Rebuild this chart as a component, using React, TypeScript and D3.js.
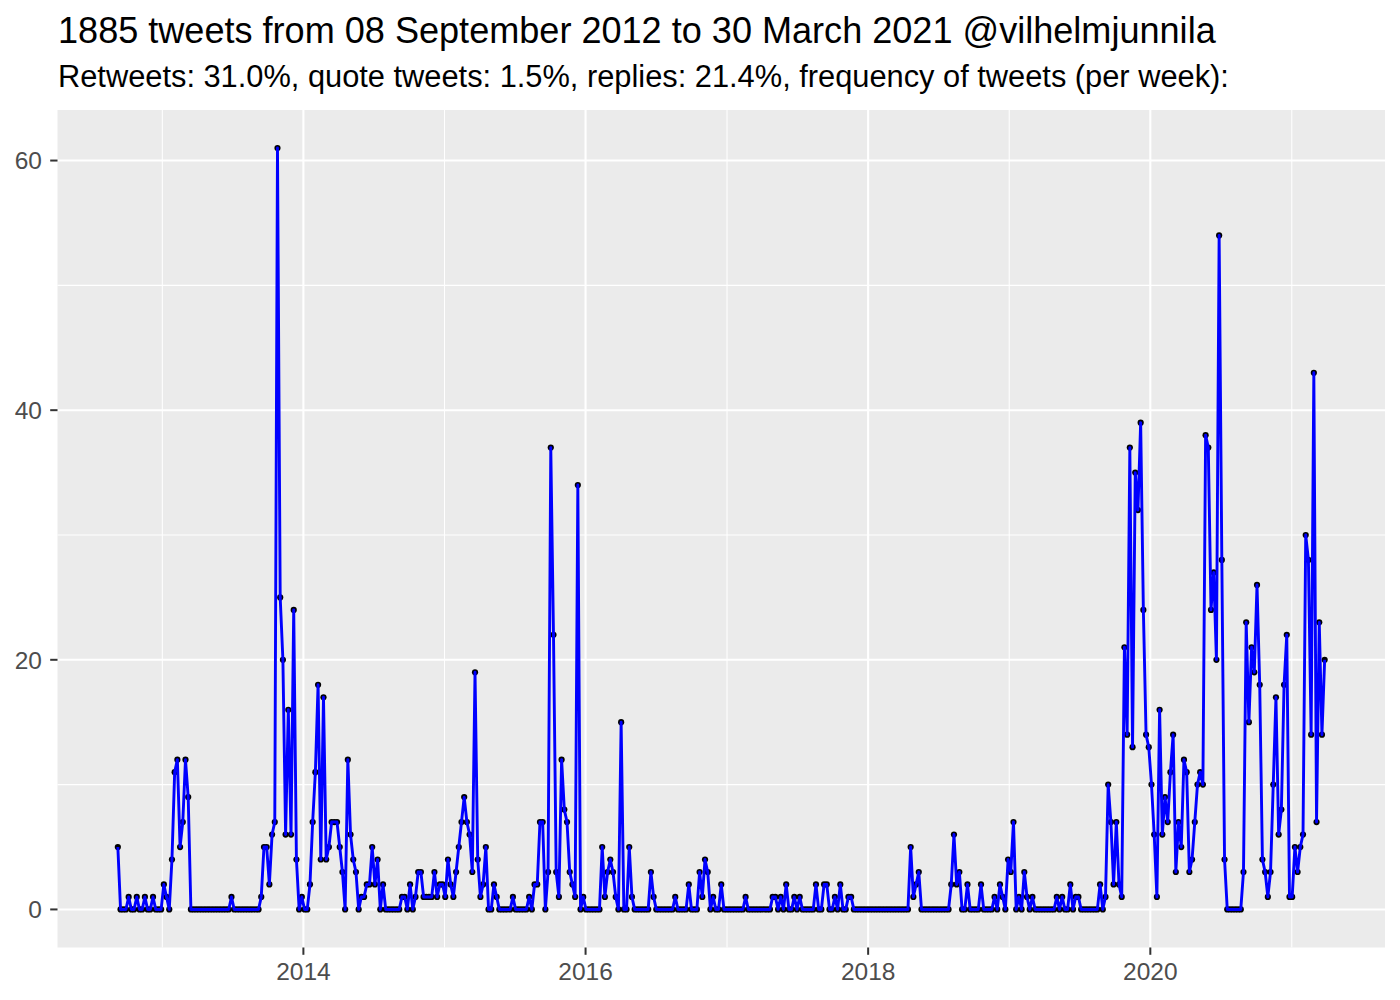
import React from "react";
import * as d3 from "d3";

// Weekly tweet counts, first week starting 08 September 2012
const startDate = new Date(Date.UTC(2012, 8, 8));

const tweets2012_2013 = [
  5, 0, 0, 0, 1, 0, 0, 1, 0, 0,
  1, 0, 0, 1, 0, 0, 0, 2, 1, 0,
  4, 11, 12, 5, 7, 12, 9, 0, 0, 0,
  0, 0, 0, 0, 0, 0, 0, 0, 0, 0,
  0, 0, 1, 0, 0, 0, 0, 0, 0, 0,
  0, 0, 0, 1, 5, 5, 2, 6, 7, 61,
  25, 20, 6, 16, 6, 24, 4, 0, 1,
];

const tweets2014_2015 = [
  0, 0, 2, 7, 11, 18, 4, 17, 4, 5,
  7, 7, 7, 5, 3, 0, 12, 6, 4, 3,
  0, 1, 1, 2, 2, 5, 2, 4, 0, 2,
  0, 0, 0, 0, 0, 0, 1, 1, 0, 2,
  0, 1, 3, 3, 1, 1, 1, 1, 3, 1,
  2, 2, 1, 4, 2, 1, 3, 5, 7, 9,
  7, 6, 3, 19, 4, 1, 2, 5, 0, 0,
  2, 1, 0, 0, 0, 0, 0, 1, 0, 0,
  0, 0, 0, 1, 0, 2, 2, 7, 7, 0,
  3, 37, 22, 3, 1, 12, 8, 7, 3, 2,
  1, 34, 0, 1,
];

const tweets2016_2017 = [
  0, 0, 0, 0, 0, 0, 5, 1, 3, 4,
  3, 1, 0, 15, 0, 0, 5, 1, 0, 0,
  0, 0, 0, 0, 3, 1, 0, 0, 0, 0,
  0, 0, 0, 1, 0, 0, 0, 0, 2, 0,
  0, 0, 3, 1, 4, 3, 0, 1, 0, 0,
  2, 0, 0, 0, 0, 0, 0, 0, 0, 1,
  0, 0, 0, 0, 0, 0, 0, 0, 0, 1,
  1, 0, 1, 0, 2, 0, 0, 1, 0, 1,
  0, 0, 0, 0, 0, 2, 0, 0, 2, 2,
  0, 0, 1, 0, 2, 0, 0, 1, 1, 0,
  0, 0, 0, 0,
];

const tweets2018_2019 = [
  0, 0, 0, 0, 0, 0, 0, 0, 0, 0,
  0, 0, 0, 0, 0, 0, 5, 1, 2, 3,
  0, 0, 0, 0, 0, 0, 0, 0, 0, 0,
  0, 2, 6, 2, 3, 0, 0, 2, 0, 0,
  0, 0, 2, 0, 0, 0, 0, 1, 0, 2,
  1, 0, 4, 3, 7, 0, 1, 0, 3, 1,
  0, 1, 0, 0, 0, 0, 0, 0, 0, 0,
  1, 0, 1, 0, 0, 2, 0, 1, 1, 0,
  0, 0, 0, 0, 0, 0, 2, 0, 1, 10,
  7, 2, 7, 2, 1, 21, 14, 37, 13, 35,
  32, 39, 24, 14,
];

const tweets2020_2021 = [
  13, 10, 6, 1, 16, 6, 9, 7, 11, 14,
  3, 7, 5, 12, 11, 3, 4, 7, 10, 11,
  10, 38, 37, 24, 27, 20, 54, 28, 4, 0,
  0, 0, 0, 0, 0, 3, 23, 15, 21, 19,
  26, 18, 4, 3, 1, 3, 10, 17, 6, 8,
  18, 22, 1, 1, 5, 3, 5, 6, 30, 28,
  14, 43, 7, 23, 14, 20,
];

const yMajorTicks = [0, 20, 40, 60];
const yMinorTicks = [10, 30, 50];
const xMajorYears = [2014, 2016, 2018, 2020];
const xMinorYears = [2013, 2015, 2017, 2019, 2021];

const titleText = "1885 tweets from 08 September 2012 to 30 March 2021 @vilhelmjunnila";
const subtitleText =
  "Retweets: 31.0%, quote tweets: 1.5%, replies: 21.4%, frequency of tweets (per week):";

const W = 1400;
const H = 1000;
const panel = { left: 57.5, right: 1385, top: 110, bottom: 947.5 };
const FONT = "'Liberation Sans', Arial, Helvetica, sans-serif";

export default function App() {
  React.useEffect(() => {
    document.body.style.margin = "0";
  }, []);

  const counts = [
    ...tweets2012_2013,
    ...tweets2014_2015,
    ...tweets2016_2017,
    ...tweets2018_2019,
    ...tweets2020_2021,
  ];
  const data = counts.map((v, i) => ({
    date: d3.utcDay.offset(startDate, 7 * i),
    value: v,
  }));

  const [d0, d1] = d3.extent(data, (d) => d.date) as [Date, Date];
  const span = d1.getTime() - d0.getTime();
  const x = d3
    .scaleUtc()
    .domain([new Date(d0.getTime() - 0.05 * span), new Date(d1.getTime() + 0.05 * span)])
    .range([panel.left, panel.right]);

  const yMax = d3.max(data, (d) => d.value) as number;
  const yPad = 0.05 * yMax;
  const y = d3
    .scaleLinear()
    .domain([0 - yPad, yMax + yPad])
    .range([panel.bottom, panel.top]);

  const line = d3
    .line<{ date: Date; value: number }>()
    .x((d) => x(d.date))
    .y((d) => y(d.value));

  const yearDate = (yr: number) => new Date(Date.UTC(yr, 0, 1));

  return (
    <svg
      width={W}
      height={H}
      style={{ position: "absolute", left: 0, top: 0, display: "block", background: "#fff" }}
      fontFamily={FONT}
    >
      <rect x={0} y={0} width={W} height={H} fill="#ffffff" />
      <text x={58} y={43} fontSize={36.1} fill="#000">
        {titleText}
      </text>
      <text x={58} y={87} fontSize={30.8} fill="#000">
        {subtitleText}
      </text>

      <rect
        x={panel.left}
        y={panel.top}
        width={panel.right - panel.left}
        height={panel.bottom - panel.top}
        fill="#EBEBEB"
      />
      {/* minor grid */}
      {yMinorTicks.map((t) => (
        <line
          key={"ym" + t}
          x1={panel.left}
          x2={panel.right}
          y1={y(t)}
          y2={y(t)}
          stroke="#fff"
          strokeWidth={1.05}
        />
      ))}
      {xMinorYears.map((yr) => (
        <line
          key={"xm" + yr}
          x1={x(yearDate(yr))}
          x2={x(yearDate(yr))}
          y1={panel.top}
          y2={panel.bottom}
          stroke="#fff"
          strokeWidth={1.05}
        />
      ))}
      {/* major grid */}
      {yMajorTicks.map((t) => (
        <line
          key={"yM" + t}
          x1={panel.left}
          x2={panel.right}
          y1={y(t)}
          y2={y(t)}
          stroke="#fff"
          strokeWidth={2.1}
        />
      ))}
      {xMajorYears.map((yr) => (
        <line
          key={"xM" + yr}
          x1={x(yearDate(yr))}
          x2={x(yearDate(yr))}
          y1={panel.top}
          y2={panel.bottom}
          stroke="#fff"
          strokeWidth={2.1}
        />
      ))}

      {/* points under line */}
      {data.map((d, i) => (
        <circle key={"p" + i} cx={x(d.date)} cy={y(d.value)} r={3.1} fill="#000" />
      ))}
      <path d={line(data) || ""} fill="none" stroke="#0000FF" strokeWidth={2.9} strokeLinejoin="round" />

      {/* y axis */}
      {yMajorTicks.map((t) => (
        <g key={"yt" + t}>
          <line x1={50.2} x2={panel.left} y1={y(t)} y2={y(t)} stroke="#333333" strokeWidth={2} />
          <text
            x={42}
            y={y(t)}
            dy="0.36em"
            textAnchor="end"
            fontSize={24.5}
            fill="#4D4D4D"
          >
            {t}
          </text>
        </g>
      ))}
      {/* x axis */}
      {xMajorYears.map((yr) => (
        <g key={"xt" + yr}>
          <line
            x1={x(yearDate(yr))}
            x2={x(yearDate(yr))}
            y1={panel.bottom}
            y2={panel.bottom + 7.3}
            stroke="#333333"
            strokeWidth={2}
          />
          <text x={x(yearDate(yr))} y={980} textAnchor="middle" fontSize={24.5} fill="#4D4D4D">
            {d3.utcFormat("%Y")(yearDate(yr))}
          </text>
        </g>
      ))}
    </svg>
  );
}
